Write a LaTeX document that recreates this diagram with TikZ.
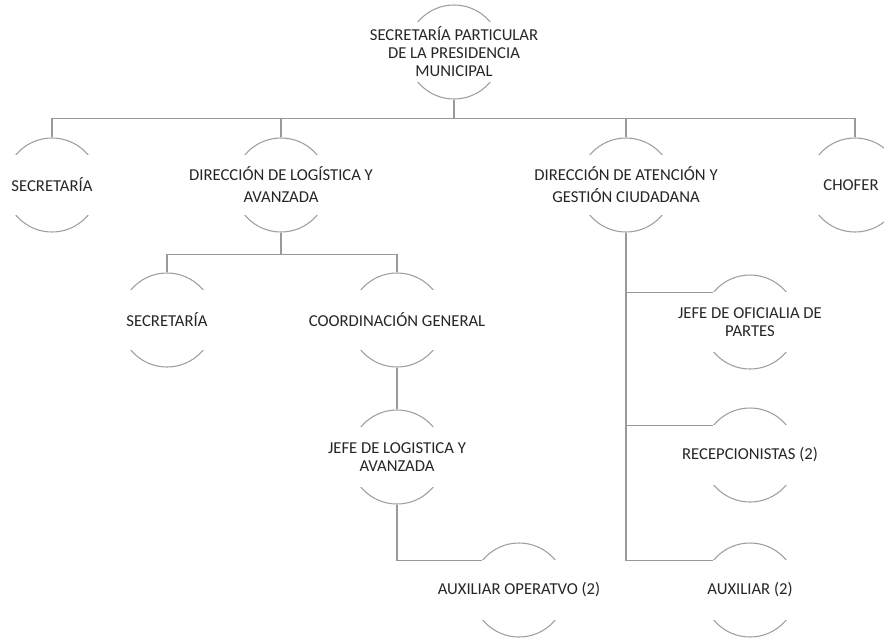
\documentclass[tikz,border=0pt]{standalone}
\usepackage{fontspec}
\setmainfont{Carlito}
\usepackage{tikz}
\usetikzlibrary{positioning}

\begin{document}
\begin{tikzpicture}[
  x=0.75pt, y=-0.75pt,
  font=\fontsize{12.5}{13.5}\selectfont,
  unit/.style={circle, draw=black!38, line width=0.8pt, minimum size=70.5pt, inner sep=0pt},
  txt/.style={fill=white, align=center, text=black!85, minimum width=75pt, minimum height=45pt, inner sep=2pt},
  wide/.style={txt, font=\fontsize{12.5}{16.5}\selectfont},
  link/.style={draw=black!40, line width=0.8pt}
]
  \useasboundingbox (0,0) rectangle (884,640);

  % head
  \node[unit] (top) at (454,52) {};
  \node[txt] (top-t) at (top) {SECRETARÍA PARTICULAR\\DE LA PRESIDENCIA\\MUNICIPAL};

  % first row
  \node[unit] (sec1) at (52,185) {};
  \node[txt] (sec1-t) at (sec1) {SECRETARÍA};
  \node[unit] (dlog) at (281,185) {};
  \node[wide] (dlog-t) at (dlog) {DIRECCIÓN DE LOGÍSTICA Y\\AVANZADA};
  \node[unit] (date) at (626,185) {};
  \node[wide] (date-t) at (date) {DIRECCIÓN DE ATENCIÓN Y\\GESTIÓN CIUDADANA};
  \node[unit] (chofer) at (855,185) {};
  \node[txt] (chofer-t) at ([xshift=-3pt]chofer) {CHOFER};

  % logistica branch
  \node[unit] (sec2) at (167,320) {};
  \node[txt] (sec2-t) at (sec2) {SECRETARÍA};
  \node[unit] (coord) at (397,320) {};
  \node[txt] (coord-t) at (coord) {COORDINACIÓN GENERAL};
  \node[unit] (jefelog) at (397,457) {};
  \node[txt] (jefelog-t) at (jefelog) {JEFE DE LOGISTICA Y\\AVANZADA};
  \node[unit] (auxop) at (519,590) {};
  \node[txt] (auxop-t) at (auxop) {AUXILIAR OPERATVO (2)};

  % atencion branch
  \node[unit] (jefeof) at (750,322) {};
  \node[txt] (jefeof-t) at (jefeof) {JEFE DE OFICIALIA DE\\PARTES};
  \node[unit] (recep) at (750,455) {};
  \node[txt] (recep-t) at (recep) {RECEPCIONISTAS (2)};
  \node[unit] (auxil) at (750,590) {};
  \node[txt] (auxil-t) at (auxil) {AUXILIAR (2)};

  % connectors
  \draw[link] (top.south) -- ++(0,19) coordinate (bus);
  \draw[link] (sec1.north) |- (bus) -| (chofer.north);
  \draw[link] (bus -| dlog.north) -- (dlog.north);
  \draw[link] (bus -| date.north) -- (date.north);

  \draw[link] (dlog.south) -- ++(0,22) coordinate (bus2);
  \draw[link] (sec2.north) |- (bus2) -| (coord.north);
  \draw[link] (coord) -- (jefelog);
  \draw[link] (jefelog.south) |- (auxop.141);

  \draw[link] (date.south) |- (auxil.141);
  \draw[link] (date.south |- jefeof.141) -- (jefeof.141);
  \draw[link] (date.south |- recep.141) -- (recep.141);
\end{tikzpicture}
\end{document}
